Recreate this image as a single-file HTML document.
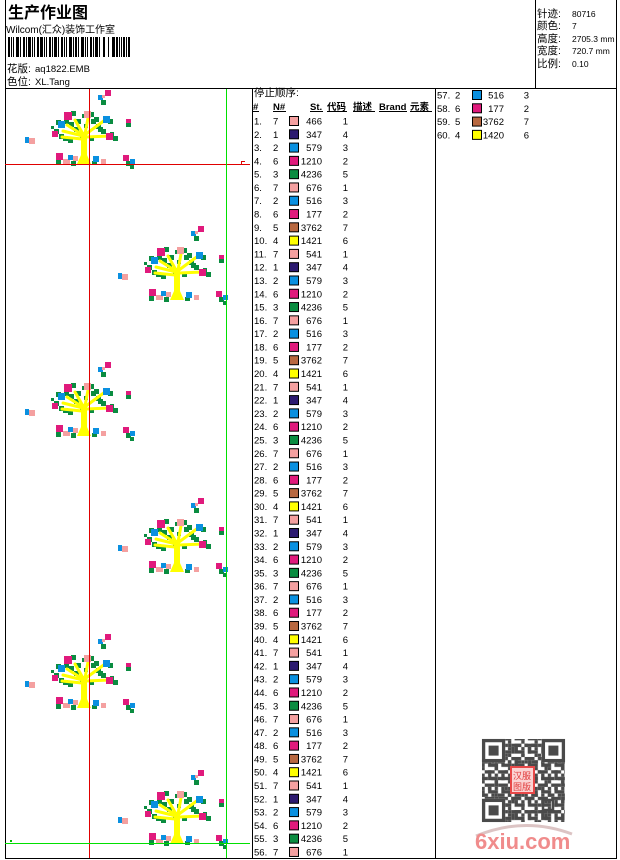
<!DOCTYPE html>
<html><head><meta charset="utf-8">
<style>
html,body{margin:0;padding:0;background:#fff;}
svg{display:block;}
text{font-family:"Liberation Sans","Noto Sans CJK SC",sans-serif;fill:#000;}
.r text{font-size:9.5px;}
.h{font-size:10.5px;}
.v{font-size:8.5px;}
.hb{font-size:9.5px;font-weight:bold;}
.p{fill:#f4a0a0;stroke:#000;stroke-width:1}
.n{fill:#2c1a70;stroke:#000;stroke-width:1}
.b{fill:#0a90e0;stroke:#000;stroke-width:1}
.m{fill:#e01a7c;stroke:#000;stroke-width:1}
.g{fill:#0a8c40;stroke:#000;stroke-width:1}
.o{fill:#b86840;stroke:#000;stroke-width:1}
.y{fill:#ffff00;stroke:#000;stroke-width:1}
</style></head>
<body>
<svg width="620" height="860" viewBox="0 0 620 860" xmlns="http://www.w3.org/2000/svg">
<defs>
<g id="t">
 <g fill="#0a8c40">
  <rect x="-28" y="-44" width="5" height="5"/><rect x="-30" y="-35" width="5" height="5"/><rect x="-21" y="-28" width="5" height="5"/><rect x="-16" y="-26" width="5" height="5"/><rect x="-25" y="-30" width="5" height="5"/><rect x="-13" y="-53" width="5" height="5"/><rect x="-15" y="-42" width="5" height="5"/><rect x="-8" y="-45" width="5" height="5"/><rect x="-10" y="-37" width="5" height="5"/><rect x="5" y="-52" width="5" height="5"/><rect x="7" y="-45" width="5" height="5"/><rect x="12" y="-40" width="5" height="5"/><rect x="14" y="-37" width="5" height="5"/><rect x="10" y="-47" width="5" height="5"/><rect x="24" y="-45" width="5" height="5"/><rect x="17" y="-35" width="5" height="5"/><rect x="29" y="-28" width="5" height="5"/><rect x="5" y="-28" width="5" height="5"/><rect x="-20" y="-45" width="5" height="5"/><rect x="-2" y="-50" width="4" height="4"/><rect x="26" y="-32" width="4" height="4"/><rect x="-33" y="-38" width="3" height="3"/><rect x="17" y="-64" width="5" height="5"/><rect x="-28" y="-4" width="5" height="5"/><rect x="-13" y="-3" width="5" height="5"/><rect x="8" y="-3" width="5" height="4"/><rect x="42" y="-3" width="5" height="5"/><rect x="46" y="1" width="4" height="4"/><rect x="42" y="-41" width="5" height="4"/><rect x="0" y="-40" width="4" height="4"/><rect x="-4" y="-30" width="4" height="4"/>
 </g>
 <g stroke="#ffff00" stroke-width="3" fill="none" stroke-linecap="round">
  <path d="M-1,-28 L-21,-33"/><path d="M-2,-25 L-22,-27"/><path d="M-1,-29 L-17,-39"/><path d="M-1,-30 L-9,-44"/><path d="M1,-30 L4,-46"/><path d="M2,-30 L21,-44"/><path d="M2,-27 L26,-28"/>
 </g>
 <rect x="-3" y="-32" width="6" height="32" fill="#ffff00"/>
 <path d="M-7,0 L-3,-9 L3,-9 L7,0Z" fill="#ffff00"/>
 <rect x="-20" y="-52" width="8" height="8" fill="#e01a7c"/>
 <rect x="0" y="-53" width="7" height="7" fill="#f4a0a0"/>
 <rect x="19" y="-48" width="7" height="7" fill="#0a90e0"/>
 <rect x="-26" y="-43" width="7" height="7" fill="#0a90e0"/>
 <rect x="-32" y="-33" width="6" height="6" fill="#e01a7c"/>
 <rect x="22" y="-31" width="7" height="7" fill="#e01a7c"/>
 <rect x="21" y="-74" width="6" height="6" fill="#e01a7c"/>
 <rect x="14" y="-69" width="5" height="5" fill="#0a90e0"/>
 <rect x="18" y="-69" width="3" height="3" fill="#f4a0a0"/>
 <rect x="42" y="-45" width="5" height="4" fill="#e01a7c"/>
 <rect x="-59" y="-27" width="4" height="6" fill="#0a90e0"/>
 <rect x="-55" y="-26" width="6" height="6" fill="#f4a0a0"/>
 <rect x="-28" y="-11" width="7" height="7" fill="#e01a7c"/>
 <rect x="-21" y="-5" width="7" height="5" fill="#f4a0a0"/>
 <rect x="-16" y="-9" width="5" height="5" fill="#0a90e0"/>
 <rect x="-11" y="-8" width="5" height="5" fill="#f4a0a0"/>
 <rect x="9" y="-8" width="6" height="6" fill="#0a90e0"/>
 <rect x="17" y="-5" width="5" height="5" fill="#f4a0a0"/>
 <rect x="39" y="-9" width="6" height="6" fill="#e01a7c"/>
 <rect x="46" y="-5" width="5" height="5" fill="#0a90e0"/>
</g>
<pattern id="qa" width="13.28" height="13.28" patternUnits="userSpaceOnUse">
 <rect x="0" y="0" width="3.32" height="3.32" fill="#4a4a4a"/><rect x="6.64" y="0" width="6.64" height="3.32" fill="#4a4a4a"/><rect x="3.32" y="3.32" width="3.32" height="3.32" fill="#4a4a4a"/><rect x="9.96" y="3.32" width="3.32" height="6.64" fill="#4a4a4a"/><rect x="0" y="6.64" width="6.64" height="3.32" fill="#4a4a4a"/><rect x="3.32" y="9.96" width="3.32" height="3.32" fill="#4a4a4a"/>
</pattern>
<pattern id="qb" width="16.6" height="16.6" patternUnits="userSpaceOnUse">
 <rect x="6.64" y="6.64" width="3.32" height="3.32" fill="#4a4a4a"/><rect x="13.28" y="0" width="3.32" height="6.64" fill="#4a4a4a"/><rect x="0" y="13.28" width="6.64" height="3.32" fill="#4a4a4a"/><rect x="9.96" y="13.28" width="3.32" height="3.32" fill="#4a4a4a"/>
</pattern>
</defs>

<!-- frame lines -->
<g stroke="#000" stroke-width="1" shape-rendering="crispEdges">
 <line x1="5.5" y1="0" x2="5.5" y2="859"/>
 <line x1="616.5" y1="0" x2="616.5" y2="859"/>
 <line x1="5" y1="88.5" x2="617" y2="88.5"/>
 <line x1="535.5" y1="0" x2="535.5" y2="88"/>
 <line x1="252.5" y1="88" x2="252.5" y2="858"/>
 <line x1="435.5" y1="88" x2="435.5" y2="858"/>
 <line x1="5" y1="858.5" x2="617" y2="858.5"/>
</g>

<!-- header left -->
<text x="8" y="18" style="font-size:16px;font-weight:bold">生产作业图</text>
<text x="6" y="33" style="font-size:10px" textLength="109">Wilcom(汇众)装饰工作室</text>
<g fill="#000" shape-rendering="crispEdges">
<rect x="8" y="37" width="2" height="20"/><rect x="11" y="37" width="1" height="20"/><rect x="13" y="37" width="1" height="20"/><rect x="16" y="37" width="3" height="20"/><rect x="20" y="37" width="1" height="20"/><rect x="23" y="37" width="2" height="20"/><rect x="26" y="37" width="1" height="20"/><rect x="28" y="37" width="3" height="20"/><rect x="32" y="37" width="1" height="20"/><rect x="34" y="37" width="1" height="20"/><rect x="37" y="37" width="2" height="20"/><rect x="40" y="37" width="3" height="20"/><rect x="44" y="37" width="1" height="20"/><rect x="46" y="37" width="1" height="20"/><rect x="49" y="37" width="2" height="20"/><rect x="52" y="37" width="1" height="20"/><rect x="54" y="37" width="3" height="20"/><rect x="58" y="37" width="1" height="20"/><rect x="61" y="37" width="2" height="20"/><rect x="64" y="37" width="1" height="20"/><rect x="66" y="37" width="1" height="20"/><rect x="69" y="37" width="3" height="20"/><rect x="73" y="37" width="1" height="20"/><rect x="75" y="37" width="2" height="20"/><rect x="78" y="37" width="1" height="20"/><rect x="81" y="37" width="3" height="20"/><rect x="85" y="37" width="1" height="20"/><rect x="87" y="37" width="1" height="20"/><rect x="90" y="37" width="2" height="20"/><rect x="93" y="37" width="1" height="20"/><rect x="95" y="37" width="3" height="20"/><rect x="99" y="37" width="1" height="20"/><rect x="103" y="37" width="2" height="20"/><rect x="108" y="37" width="1" height="20"/><rect x="112" y="37" width="3" height="20"/><rect x="116" y="37" width="2" height="20"/><rect x="119" y="37" width="1" height="20"/><rect x="121" y="37" width="1" height="20"/><rect x="123" y="37" width="2" height="20"/><rect x="126" y="37" width="1" height="20"/><rect x="128" y="37" width="2" height="20"/>
</g>
<text x="7" y="72" class="h">花版:</text><text x="35" y="72" style="font-size:9.5px">aq1822.EMB</text>
<text x="7" y="85" class="h">色位:</text><text x="35" y="85" style="font-size:9.5px">XL.Tang</text>

<!-- header right -->
<text x="537" y="17" class="h">针迹:</text><text x="572" y="17" class="v">80716</text>
<text x="537" y="29" class="h">颜色:</text><text x="572" y="29" class="v">7</text>
<text x="537" y="42" class="h">高度:</text><text x="572" y="42" class="v">2705.3 mm</text>
<text x="537" y="54" class="h">宽度:</text><text x="572" y="54" class="v">720.7 mm</text>
<text x="537" y="67" class="h">比例:</text><text x="572" y="67" class="v">0.10</text>

<!-- pattern area -->
<use href="#t" x="84" y="164"/>
<use href="#t" x="177" y="300"/>
<use href="#t" x="84" y="436"/>
<use href="#t" x="177" y="572"/>
<use href="#t" x="84" y="708"/>
<use href="#t" x="177" y="844"/>
<g shape-rendering="crispEdges">
 <line x1="89.5" y1="89" x2="89.5" y2="858" stroke="#e00000" stroke-width="1"/>
 <line x1="5" y1="164.5" x2="250" y2="164.5" stroke="#e00000" stroke-width="1"/>
 <line x1="226.5" y1="89" x2="226.5" y2="858" stroke="#00e000" stroke-width="1"/>
 <line x1="5" y1="843.5" x2="250" y2="843.5" stroke="#00e000" stroke-width="1"/>
 <rect x="241" y="161" width="1" height="3" fill="#e00000"/><rect x="241" y="161" width="4" height="1" fill="#e00000"/>
 <rect x="10" y="840" width="2" height="2" fill="#00c000"/>
</g>

<!-- table header -->
<text x="254" y="96" class="h">停止顺序:</text>
<text x="253" y="110" class="hb">#</text>
<text x="273" y="110" class="hb">N#</text>
<text x="310" y="110" class="hb">St.</text>
<text x="327" y="110" class="hb">代码</text>
<text x="353" y="110" class="hb">描述</text>
<text x="379" y="110" class="hb">Brand</text>
<text x="410" y="110" class="hb">元素</text>
<g fill="#000" shape-rendering="crispEdges">
<rect x="253" y="111" width="6" height="1"/><rect x="273" y="111" width="13" height="1"/><rect x="310" y="111" width="13" height="1"/><rect x="327" y="111" width="20" height="1"/><rect x="353" y="111" width="22" height="1"/><rect x="379" y="111" width="28" height="1"/><rect x="410" y="111" width="22" height="1"/>
</g>

<!-- rows -->
<g class="r">
<g transform="translate(253,121)"><text x="1" y="3.5">1.</text><text x="20" y="3.5">7</text><rect class="p" x="36.5" y="-4.5" width="9" height="9"/><text x="69" y="3.5" text-anchor="end">466</text><text x="95" y="3.5" text-anchor="end">1</text></g>
<g transform="translate(253,134.29)"><text x="1" y="3.5">2.</text><text x="20" y="3.5">1</text><rect class="n" x="36.5" y="-4.5" width="9" height="9"/><text x="69" y="3.5" text-anchor="end">347</text><text x="95" y="3.5" text-anchor="end">4</text></g>
<g transform="translate(253,147.58)"><text x="1" y="3.5">3.</text><text x="20" y="3.5">2</text><rect class="b" x="36.5" y="-4.5" width="9" height="9"/><text x="69" y="3.5" text-anchor="end">579</text><text x="95" y="3.5" text-anchor="end">3</text></g>
<g transform="translate(253,160.87)"><text x="1" y="3.5">4.</text><text x="20" y="3.5">6</text><rect class="m" x="36.5" y="-4.5" width="9" height="9"/><text x="69" y="3.5" text-anchor="end">1210</text><text x="95" y="3.5" text-anchor="end">2</text></g>
<g transform="translate(253,174.16)"><text x="1" y="3.5">5.</text><text x="20" y="3.5">3</text><rect class="g" x="36.5" y="-4.5" width="9" height="9"/><text x="69" y="3.5" text-anchor="end">4236</text><text x="95" y="3.5" text-anchor="end">5</text></g>
<g transform="translate(253,187.45)"><text x="1" y="3.5">6.</text><text x="20" y="3.5">7</text><rect class="p" x="36.5" y="-4.5" width="9" height="9"/><text x="69" y="3.5" text-anchor="end">676</text><text x="95" y="3.5" text-anchor="end">1</text></g>
<g transform="translate(253,200.74)"><text x="1" y="3.5">7.</text><text x="20" y="3.5">2</text><rect class="b" x="36.5" y="-4.5" width="9" height="9"/><text x="69" y="3.5" text-anchor="end">516</text><text x="95" y="3.5" text-anchor="end">3</text></g>
<g transform="translate(253,214.03)"><text x="1" y="3.5">8.</text><text x="20" y="3.5">6</text><rect class="m" x="36.5" y="-4.5" width="9" height="9"/><text x="69" y="3.5" text-anchor="end">177</text><text x="95" y="3.5" text-anchor="end">2</text></g>
<g transform="translate(253,227.32)"><text x="1" y="3.5">9.</text><text x="20" y="3.5">5</text><rect class="o" x="36.5" y="-4.5" width="9" height="9"/><text x="69" y="3.5" text-anchor="end">3762</text><text x="95" y="3.5" text-anchor="end">7</text></g>
<g transform="translate(253,240.61)"><text x="1" y="3.5">10.</text><text x="20" y="3.5">4</text><rect class="y" x="36.5" y="-4.5" width="9" height="9"/><text x="69" y="3.5" text-anchor="end">1421</text><text x="95" y="3.5" text-anchor="end">6</text></g>

<g transform="translate(253,253.9)"><text x="1" y="3.5">11.</text><text x="20" y="3.5">7</text><rect class="p" x="36.5" y="-4.5" width="9" height="9"/><text x="69" y="3.5" text-anchor="end">541</text><text x="95" y="3.5" text-anchor="end">1</text></g>
<g transform="translate(253,267.19)"><text x="1" y="3.5">12.</text><text x="20" y="3.5">1</text><rect class="n" x="36.5" y="-4.5" width="9" height="9"/><text x="69" y="3.5" text-anchor="end">347</text><text x="95" y="3.5" text-anchor="end">4</text></g>
<g transform="translate(253,280.48)"><text x="1" y="3.5">13.</text><text x="20" y="3.5">2</text><rect class="b" x="36.5" y="-4.5" width="9" height="9"/><text x="69" y="3.5" text-anchor="end">579</text><text x="95" y="3.5" text-anchor="end">3</text></g>
<g transform="translate(253,293.77)"><text x="1" y="3.5">14.</text><text x="20" y="3.5">6</text><rect class="m" x="36.5" y="-4.5" width="9" height="9"/><text x="69" y="3.5" text-anchor="end">1210</text><text x="95" y="3.5" text-anchor="end">2</text></g>
<g transform="translate(253,307.06)"><text x="1" y="3.5">15.</text><text x="20" y="3.5">3</text><rect class="g" x="36.5" y="-4.5" width="9" height="9"/><text x="69" y="3.5" text-anchor="end">4236</text><text x="95" y="3.5" text-anchor="end">5</text></g>
<g transform="translate(253,320.35)"><text x="1" y="3.5">16.</text><text x="20" y="3.5">7</text><rect class="p" x="36.5" y="-4.5" width="9" height="9"/><text x="69" y="3.5" text-anchor="end">676</text><text x="95" y="3.5" text-anchor="end">1</text></g>
<g transform="translate(253,333.64)"><text x="1" y="3.5">17.</text><text x="20" y="3.5">2</text><rect class="b" x="36.5" y="-4.5" width="9" height="9"/><text x="69" y="3.5" text-anchor="end">516</text><text x="95" y="3.5" text-anchor="end">3</text></g>
<g transform="translate(253,346.93)"><text x="1" y="3.5">18.</text><text x="20" y="3.5">6</text><rect class="m" x="36.5" y="-4.5" width="9" height="9"/><text x="69" y="3.5" text-anchor="end">177</text><text x="95" y="3.5" text-anchor="end">2</text></g>
<g transform="translate(253,360.22)"><text x="1" y="3.5">19.</text><text x="20" y="3.5">5</text><rect class="o" x="36.5" y="-4.5" width="9" height="9"/><text x="69" y="3.5" text-anchor="end">3762</text><text x="95" y="3.5" text-anchor="end">7</text></g>
<g transform="translate(253,373.51)"><text x="1" y="3.5">20.</text><text x="20" y="3.5">4</text><rect class="y" x="36.5" y="-4.5" width="9" height="9"/><text x="69" y="3.5" text-anchor="end">1421</text><text x="95" y="3.5" text-anchor="end">6</text></g>

<g transform="translate(253,386.8)"><text x="1" y="3.5">21.</text><text x="20" y="3.5">7</text><rect class="p" x="36.5" y="-4.5" width="9" height="9"/><text x="69" y="3.5" text-anchor="end">541</text><text x="95" y="3.5" text-anchor="end">1</text></g>
<g transform="translate(253,400.09)"><text x="1" y="3.5">22.</text><text x="20" y="3.5">1</text><rect class="n" x="36.5" y="-4.5" width="9" height="9"/><text x="69" y="3.5" text-anchor="end">347</text><text x="95" y="3.5" text-anchor="end">4</text></g>
<g transform="translate(253,413.38)"><text x="1" y="3.5">23.</text><text x="20" y="3.5">2</text><rect class="b" x="36.5" y="-4.5" width="9" height="9"/><text x="69" y="3.5" text-anchor="end">579</text><text x="95" y="3.5" text-anchor="end">3</text></g>
<g transform="translate(253,426.67)"><text x="1" y="3.5">24.</text><text x="20" y="3.5">6</text><rect class="m" x="36.5" y="-4.5" width="9" height="9"/><text x="69" y="3.5" text-anchor="end">1210</text><text x="95" y="3.5" text-anchor="end">2</text></g>
<g transform="translate(253,439.96)"><text x="1" y="3.5">25.</text><text x="20" y="3.5">3</text><rect class="g" x="36.5" y="-4.5" width="9" height="9"/><text x="69" y="3.5" text-anchor="end">4236</text><text x="95" y="3.5" text-anchor="end">5</text></g>
<g transform="translate(253,453.25)"><text x="1" y="3.5">26.</text><text x="20" y="3.5">7</text><rect class="p" x="36.5" y="-4.5" width="9" height="9"/><text x="69" y="3.5" text-anchor="end">676</text><text x="95" y="3.5" text-anchor="end">1</text></g>
<g transform="translate(253,466.54)"><text x="1" y="3.5">27.</text><text x="20" y="3.5">2</text><rect class="b" x="36.5" y="-4.5" width="9" height="9"/><text x="69" y="3.5" text-anchor="end">516</text><text x="95" y="3.5" text-anchor="end">3</text></g>
<g transform="translate(253,479.83)"><text x="1" y="3.5">28.</text><text x="20" y="3.5">6</text><rect class="m" x="36.5" y="-4.5" width="9" height="9"/><text x="69" y="3.5" text-anchor="end">177</text><text x="95" y="3.5" text-anchor="end">2</text></g>
<g transform="translate(253,493.12)"><text x="1" y="3.5">29.</text><text x="20" y="3.5">5</text><rect class="o" x="36.5" y="-4.5" width="9" height="9"/><text x="69" y="3.5" text-anchor="end">3762</text><text x="95" y="3.5" text-anchor="end">7</text></g>
<g transform="translate(253,506.41)"><text x="1" y="3.5">30.</text><text x="20" y="3.5">4</text><rect class="y" x="36.5" y="-4.5" width="9" height="9"/><text x="69" y="3.5" text-anchor="end">1421</text><text x="95" y="3.5" text-anchor="end">6</text></g>

<g transform="translate(253,519.7)"><text x="1" y="3.5">31.</text><text x="20" y="3.5">7</text><rect class="p" x="36.5" y="-4.5" width="9" height="9"/><text x="69" y="3.5" text-anchor="end">541</text><text x="95" y="3.5" text-anchor="end">1</text></g>
<g transform="translate(253,532.99)"><text x="1" y="3.5">32.</text><text x="20" y="3.5">1</text><rect class="n" x="36.5" y="-4.5" width="9" height="9"/><text x="69" y="3.5" text-anchor="end">347</text><text x="95" y="3.5" text-anchor="end">4</text></g>
<g transform="translate(253,546.28)"><text x="1" y="3.5">33.</text><text x="20" y="3.5">2</text><rect class="b" x="36.5" y="-4.5" width="9" height="9"/><text x="69" y="3.5" text-anchor="end">579</text><text x="95" y="3.5" text-anchor="end">3</text></g>
<g transform="translate(253,559.57)"><text x="1" y="3.5">34.</text><text x="20" y="3.5">6</text><rect class="m" x="36.5" y="-4.5" width="9" height="9"/><text x="69" y="3.5" text-anchor="end">1210</text><text x="95" y="3.5" text-anchor="end">2</text></g>
<g transform="translate(253,572.86)"><text x="1" y="3.5">35.</text><text x="20" y="3.5">3</text><rect class="g" x="36.5" y="-4.5" width="9" height="9"/><text x="69" y="3.5" text-anchor="end">4236</text><text x="95" y="3.5" text-anchor="end">5</text></g>
<g transform="translate(253,586.15)"><text x="1" y="3.5">36.</text><text x="20" y="3.5">7</text><rect class="p" x="36.5" y="-4.5" width="9" height="9"/><text x="69" y="3.5" text-anchor="end">676</text><text x="95" y="3.5" text-anchor="end">1</text></g>
<g transform="translate(253,599.44)"><text x="1" y="3.5">37.</text><text x="20" y="3.5">2</text><rect class="b" x="36.5" y="-4.5" width="9" height="9"/><text x="69" y="3.5" text-anchor="end">516</text><text x="95" y="3.5" text-anchor="end">3</text></g>
<g transform="translate(253,612.73)"><text x="1" y="3.5">38.</text><text x="20" y="3.5">6</text><rect class="m" x="36.5" y="-4.5" width="9" height="9"/><text x="69" y="3.5" text-anchor="end">177</text><text x="95" y="3.5" text-anchor="end">2</text></g>
<g transform="translate(253,626.02)"><text x="1" y="3.5">39.</text><text x="20" y="3.5">5</text><rect class="o" x="36.5" y="-4.5" width="9" height="9"/><text x="69" y="3.5" text-anchor="end">3762</text><text x="95" y="3.5" text-anchor="end">7</text></g>
<g transform="translate(253,639.31)"><text x="1" y="3.5">40.</text><text x="20" y="3.5">4</text><rect class="y" x="36.5" y="-4.5" width="9" height="9"/><text x="69" y="3.5" text-anchor="end">1421</text><text x="95" y="3.5" text-anchor="end">6</text></g>

<g transform="translate(253,652.6)"><text x="1" y="3.5">41.</text><text x="20" y="3.5">7</text><rect class="p" x="36.5" y="-4.5" width="9" height="9"/><text x="69" y="3.5" text-anchor="end">541</text><text x="95" y="3.5" text-anchor="end">1</text></g>
<g transform="translate(253,665.89)"><text x="1" y="3.5">42.</text><text x="20" y="3.5">1</text><rect class="n" x="36.5" y="-4.5" width="9" height="9"/><text x="69" y="3.5" text-anchor="end">347</text><text x="95" y="3.5" text-anchor="end">4</text></g>
<g transform="translate(253,679.18)"><text x="1" y="3.5">43.</text><text x="20" y="3.5">2</text><rect class="b" x="36.5" y="-4.5" width="9" height="9"/><text x="69" y="3.5" text-anchor="end">579</text><text x="95" y="3.5" text-anchor="end">3</text></g>
<g transform="translate(253,692.47)"><text x="1" y="3.5">44.</text><text x="20" y="3.5">6</text><rect class="m" x="36.5" y="-4.5" width="9" height="9"/><text x="69" y="3.5" text-anchor="end">1210</text><text x="95" y="3.5" text-anchor="end">2</text></g>
<g transform="translate(253,705.76)"><text x="1" y="3.5">45.</text><text x="20" y="3.5">3</text><rect class="g" x="36.5" y="-4.5" width="9" height="9"/><text x="69" y="3.5" text-anchor="end">4236</text><text x="95" y="3.5" text-anchor="end">5</text></g>
<g transform="translate(253,719.05)"><text x="1" y="3.5">46.</text><text x="20" y="3.5">7</text><rect class="p" x="36.5" y="-4.5" width="9" height="9"/><text x="69" y="3.5" text-anchor="end">676</text><text x="95" y="3.5" text-anchor="end">1</text></g>
<g transform="translate(253,732.34)"><text x="1" y="3.5">47.</text><text x="20" y="3.5">2</text><rect class="b" x="36.5" y="-4.5" width="9" height="9"/><text x="69" y="3.5" text-anchor="end">516</text><text x="95" y="3.5" text-anchor="end">3</text></g>
<g transform="translate(253,745.63)"><text x="1" y="3.5">48.</text><text x="20" y="3.5">6</text><rect class="m" x="36.5" y="-4.5" width="9" height="9"/><text x="69" y="3.5" text-anchor="end">177</text><text x="95" y="3.5" text-anchor="end">2</text></g>
<g transform="translate(253,758.92)"><text x="1" y="3.5">49.</text><text x="20" y="3.5">5</text><rect class="o" x="36.5" y="-4.5" width="9" height="9"/><text x="69" y="3.5" text-anchor="end">3762</text><text x="95" y="3.5" text-anchor="end">7</text></g>
<g transform="translate(253,772.21)"><text x="1" y="3.5">50.</text><text x="20" y="3.5">4</text><rect class="y" x="36.5" y="-4.5" width="9" height="9"/><text x="69" y="3.5" text-anchor="end">1421</text><text x="95" y="3.5" text-anchor="end">6</text></g>

<g transform="translate(253,785.5)"><text x="1" y="3.5">51.</text><text x="20" y="3.5">7</text><rect class="p" x="36.5" y="-4.5" width="9" height="9"/><text x="69" y="3.5" text-anchor="end">541</text><text x="95" y="3.5" text-anchor="end">1</text></g>
<g transform="translate(253,798.79)"><text x="1" y="3.5">52.</text><text x="20" y="3.5">1</text><rect class="n" x="36.5" y="-4.5" width="9" height="9"/><text x="69" y="3.5" text-anchor="end">347</text><text x="95" y="3.5" text-anchor="end">4</text></g>
<g transform="translate(253,812.08)"><text x="1" y="3.5">53.</text><text x="20" y="3.5">2</text><rect class="b" x="36.5" y="-4.5" width="9" height="9"/><text x="69" y="3.5" text-anchor="end">579</text><text x="95" y="3.5" text-anchor="end">3</text></g>
<g transform="translate(253,825.37)"><text x="1" y="3.5">54.</text><text x="20" y="3.5">6</text><rect class="m" x="36.5" y="-4.5" width="9" height="9"/><text x="69" y="3.5" text-anchor="end">1210</text><text x="95" y="3.5" text-anchor="end">2</text></g>
<g transform="translate(253,838.66)"><text x="1" y="3.5">55.</text><text x="20" y="3.5">3</text><rect class="g" x="36.5" y="-4.5" width="9" height="9"/><text x="69" y="3.5" text-anchor="end">4236</text><text x="95" y="3.5" text-anchor="end">5</text></g>
<g transform="translate(253,851.95)"><text x="1" y="3.5">56.</text><text x="20" y="3.5">7</text><rect class="p" x="36.5" y="-4.5" width="9" height="9"/><text x="69" y="3.5" text-anchor="end">676</text><text x="95" y="3.5" text-anchor="end">1</text></g>

<!-- right column -->
<g transform="translate(435,95)"><text x="2" y="3.5">57.</text><text x="20" y="3.5">2</text><rect class="b" x="37.5" y="-4.5" width="9" height="9"/><text x="69" y="3.5" text-anchor="end">516</text><text x="94" y="3.5" text-anchor="end">3</text></g>
<g transform="translate(435,108.29)"><text x="2" y="3.5">58.</text><text x="20" y="3.5">6</text><rect class="m" x="37.5" y="-4.5" width="9" height="9"/><text x="69" y="3.5" text-anchor="end">177</text><text x="94" y="3.5" text-anchor="end">2</text></g>
<g transform="translate(435,121.58)"><text x="2" y="3.5">59.</text><text x="20" y="3.5">5</text><rect class="o" x="37.5" y="-4.5" width="9" height="9"/><text x="69" y="3.5" text-anchor="end">3762</text><text x="94" y="3.5" text-anchor="end">7</text></g>
<g transform="translate(435,134.87)"><text x="2" y="3.5">60.</text><text x="20" y="3.5">4</text><rect class="y" x="37.5" y="-4.5" width="9" height="9"/><text x="69" y="3.5" text-anchor="end">1420</text><text x="94" y="3.5" text-anchor="end">6</text></g>
</g>

<!-- QR code -->
<rect x="482" y="739" width="83" height="83" fill="url(#qa)"/>
<rect x="482" y="739" width="83" height="83" fill="url(#qb)"/>
<g>
 <rect x="482" y="739" width="23.2" height="23.2" fill="#fff"/>
 <rect x="483.6" y="740.6" width="20" height="20" fill="none" stroke="#4a4a4a" stroke-width="3.3"/>
 <rect x="488.6" y="745.6" width="10" height="10" fill="#4a4a4a"/>
 <rect x="541.8" y="739" width="23.2" height="23.2" fill="#fff"/>
 <rect x="543.4" y="740.6" width="20" height="20" fill="none" stroke="#4a4a4a" stroke-width="3.3"/>
 <rect x="548.4" y="745.6" width="10" height="10" fill="#4a4a4a"/>
 <rect x="482" y="798.8" width="23.2" height="23.2" fill="#fff"/>
 <rect x="483.6" y="800.4" width="20" height="20" fill="none" stroke="#4a4a4a" stroke-width="3.3"/>
 <rect x="488.6" y="805.4" width="10" height="10" fill="#4a4a4a"/>
 <rect x="543" y="800" width="10" height="10" fill="none" stroke="#4a4a4a" stroke-width="2.5"/>
 <rect x="546.5" y="803.5" width="3" height="3" fill="#4a4a4a"/>
</g>
<rect x="511" y="767" width="23" height="26" fill="#fbd4d4" stroke="#e84848" stroke-width="2"/>
<text x="513" y="779" style="font-size:9px;fill:#e03a3a">汉服</text>
<text x="513" y="790" style="font-size:9px;fill:#e03a3a">图版</text>

<!-- watermark -->
<path d="M476,836 Q524,816 572,834" fill="none" stroke="#dcc4c4" stroke-width="3"/>
<text x="475" y="849" style="font-size:22px;font-weight:bold;fill:#f08c8c">6xiu.com</text>
</svg>
</body></html>
